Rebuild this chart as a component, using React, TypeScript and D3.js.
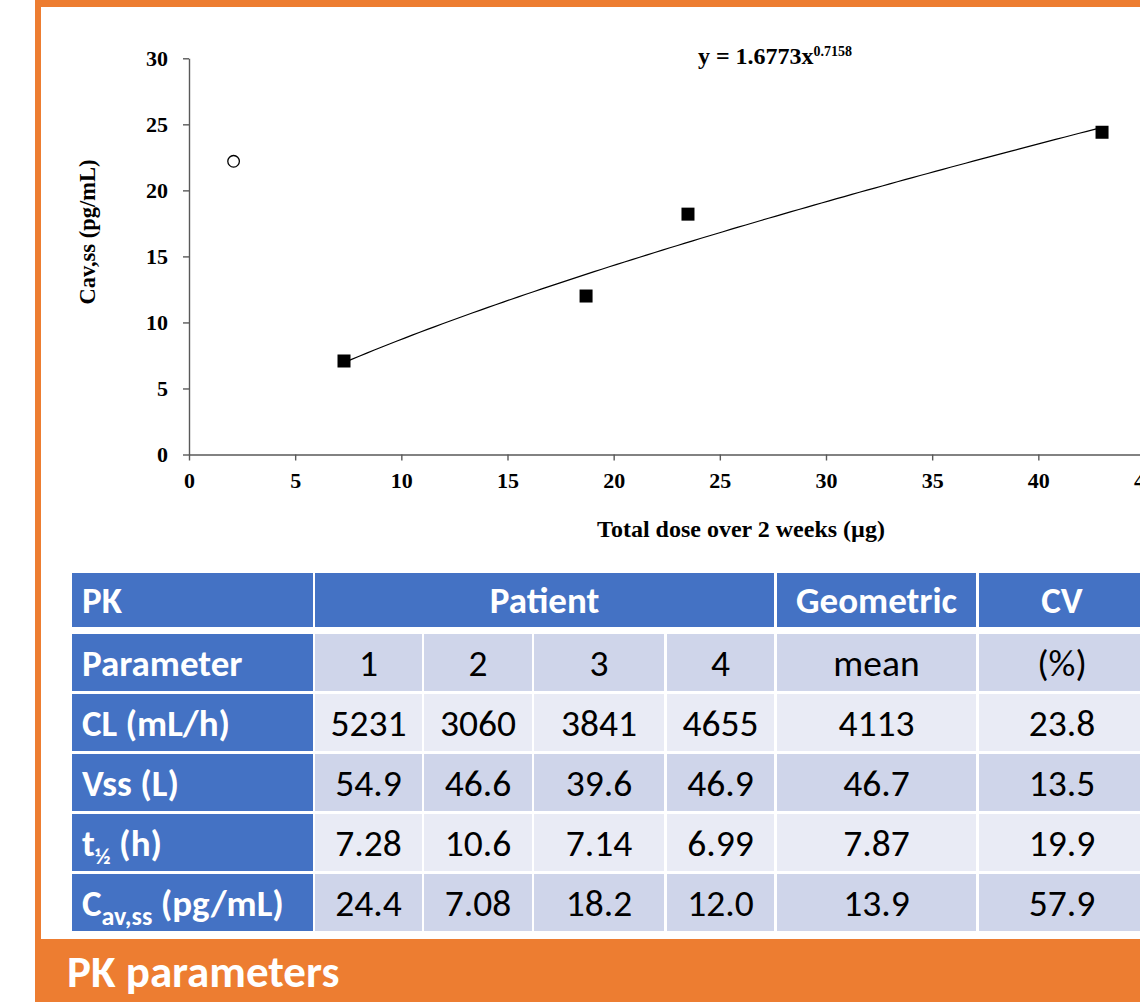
import React, { useRef, useEffect } from "react";
import * as d3 from "d3";

// scatter: total dose (µg) vs Cav,ss (pg/mL)
const patientDose = [43.0, 7.3, 23.5, 18.7];
const patientCav = [24.4, 7.08, 18.2, 12.0];
const outlierDose = [2.1];
const outlierCav = [22.2];
const fitCoef = 1.6773;
const fitExp = 0.7158;
const xTicks = [0, 5, 10, 15, 20, 25, 30, 35, 40, 45];
const yTicks = [0, 5, 10, 15, 20, 25, 30];

// PK table
const headerLabels = ["PK", "Patient", "Geometric", "CV"];
const subHeader = ["Parameter", "1", "2", "3", "4", "mean", "(%)"];
const paramNames = ["CL (mL/h)", "Vss (L)", "t½ (h)", "Cav,ss (pg/mL)"];
const patientValues = [
  ["5231", "3060", "3841", "4655"],
  ["54.9", "46.6", "39.6", "46.9"],
  ["7.28", "10.6", "7.14", "6.99"],
  ["24.4", "7.08", "18.2", "12.0"],
];
const geoMean = ["4113", "46.7", "7.87", "13.9"];
const cvPct = ["23.8", "13.5", "19.9", "57.9"];

const ORANGE = "#ED7D31";
const BLUE = "#4472C4";
const DARK_ROW = "#CFD5EA";
const LIGHT_ROW = "#E9EBF5";
const SERIF = "'Times New Roman', 'Liberation Serif', serif";
const SANS = "Calibri, Carlito, Lato, sans-serif";

function App() {
  const xAxisRef = useRef<SVGGElement>(null);
  const yAxisRef = useRef<SVGGElement>(null);

  const x = d3.scaleLinear().domain([0, 45]).range([189, 1144.5]);
  const y = d3.scaleLinear().domain([0, 30]).range([454.5, 58.3]);

  useEffect(() => {
    const xa = d3.select(xAxisRef.current!);
    xa.call(d3.axisBottom(x).tickValues(xTicks).tickSize(6).tickPadding(12).tickSizeOuter(0));
    const ya = d3.select(yAxisRef.current!);
    ya.call(d3.axisLeft(y).tickValues(yTicks).tickSize(6).tickPadding(15).tickSizeOuter(0));
    [xa, ya].forEach((g) => {
      g.selectAll("path, line").attr("stroke", "#595959").attr("stroke-width", 1.4);
      g.selectAll("text")
        .attr("fill", "#000")
        .style("font-family", SERIF)
        .style("font-weight", "bold")
        .style("font-size", "22px");
    });
  }, []);

  const [d0, d1] = d3.extent(patientDose) as [number, number];
  const fitPts = d3.range(0, 101).map((i) => {
    const dv = d0 + ((d1 - d0) * i) / 100;
    return [dv, fitCoef * Math.pow(dv, fitExp)] as [number, number];
  });
  const line = d3
    .line<[number, number]>()
    .x((p) => x(p[0]))
    .y((p) => y(p[1]));

  // table layout
  const cols = [
    { x: 72, w: 241 },
    { x: 315, w: 107 },
    { x: 424, w: 108 },
    { x: 534, w: 130 },
    { x: 667, w: 107 },
    { x: 777, w: 199 },
    { x: 979, w: 175 },
  ];
  const headRow = { y: 573, h: 54 };
  const rowY = (i: number) => 634 + i * 60;
  const rowH = 57;
  const off = 13;
  const headStyle = { fontFamily: SANS, fontWeight: 700, fontSize: 37, fill: "#fff" } as const;
  const dataStyle = { fontFamily: SANS, fontWeight: 400, fontSize: 37.5, fill: "#000" } as const;

  const paramLabel = (name: string, cy: number) => {
    const base = cy + off;
    if (name.startsWith("t½")) {
      return (
        <text x={82} y={base} style={headStyle}>
          t<tspan fontSize={23} dy={8}>½</tspan>
          <tspan dy={-8}> (h)</tspan>
        </text>
      );
    }
    if (name.startsWith("Cav")) {
      return (
        <text x={82} y={base} style={headStyle}>
          C<tspan fontSize={26} dy={9}>av,ss</tspan>
          <tspan dy={-9}> (pg/mL)</tspan>
        </text>
      );
    }
    return (
      <text x={82} y={base} style={headStyle}>
        {name}
      </text>
    );
  };

  return (
    <svg width={1140} height={1002} style={{ position: "absolute", left: 0, top: 0 }}>
      <rect x={35} y={-10} width={1200} height={1020} fill={ORANGE} />
      <rect x={41} y={7} width={1200} height={932} fill="#fff" />

      {/* chart */}
      <g ref={xAxisRef} transform={`translate(0,${y(0)})`} />
      <g ref={yAxisRef} transform={`translate(${x(0)},0)`} />
      <path d={line(fitPts) || ""} fill="none" stroke="#000" strokeWidth={1.2} />
      {patientDose.map((dv, i) => (
        <rect key={i} x={x(dv) - 6.5} y={y(patientCav[i]) - 6.5} width={13} height={13} fill="#000" />
      ))}
      {outlierDose.map((dv, i) => (
        <circle key={i} cx={x(dv)} cy={y(outlierCav[i])} r={5.8} fill="#fff" stroke="#000" strokeWidth={1.3} />
      ))}
      <text x={775} y={64} textAnchor="middle" style={{ fontFamily: SERIF, fontWeight: 700, fontSize: 24 }}>
        y = {fitCoef}x<tspan fontSize={14} dy={-8}>{fitExp}</tspan>
      </text>
      <text
        transform={`translate(95,232) rotate(-90)`}
        textAnchor="middle"
        style={{ fontFamily: SERIF, fontWeight: 700, fontSize: 22.5 }}
      >
        Cav,ss (pg/mL)
      </text>
      <text x={741} y={537} textAnchor="middle" style={{ fontFamily: SERIF, fontWeight: 700, fontSize: 24 }}>
        Total dose over 2 weeks (µg)
      </text>

      {/* table header row */}
      <rect x={cols[0].x} y={headRow.y} width={cols[0].w} height={headRow.h} fill={BLUE} />
      <rect x={cols[1].x} y={headRow.y} width={cols[4].x + cols[4].w - cols[1].x} height={headRow.h} fill={BLUE} />
      <rect x={cols[5].x} y={headRow.y} width={cols[5].w} height={headRow.h} fill={BLUE} />
      <rect x={cols[6].x} y={headRow.y} width={cols[6].w} height={headRow.h} fill={BLUE} />
      <text x={82} y={headRow.y + headRow.h / 2 + off} style={headStyle}>
        {headerLabels[0]}
      </text>
      <text x={(cols[1].x + cols[4].x + cols[4].w) / 2} y={headRow.y + headRow.h / 2 + off} textAnchor="middle" style={headStyle}>
        {headerLabels[1]}
      </text>
      <text x={cols[5].x + cols[5].w / 2} y={headRow.y + headRow.h / 2 + off} textAnchor="middle" style={headStyle}>
        {headerLabels[2]}
      </text>
      <text x={cols[6].x + 83} y={headRow.y + headRow.h / 2 + off} textAnchor="middle" style={headStyle}>
        {headerLabels[3]}
      </text>

      {/* sub header + body rows */}
      {[subHeader, ...paramNames.map((n, i) => [n, ...patientValues[i], geoMean[i], cvPct[i]])].map((row, ri) => {
        const top = rowY(ri);
        const cy = top + rowH / 2;
        const fill = ri % 2 === 0 ? DARK_ROW : LIGHT_ROW;
        return (
          <g key={ri}>
            {cols.map((c, ci) => (
              <rect key={ci} x={c.x} y={top} width={c.w} height={rowH} fill={ci === 0 ? BLUE : fill} />
            ))}
            {ri === 0 ? (
              <text x={82} y={cy + off} style={headStyle}>
                {row[0]}
              </text>
            ) : (
              paramLabel(row[0], cy)
            )}
            {row.slice(1).map((v, ci) => {
              const c = cols[ci + 1];
              const cx = ci + 1 === 6 ? c.x + 83 : c.x + c.w / 2;
              return (
                <text key={ci} x={cx} y={cy + off} textAnchor="middle" style={dataStyle}>
                  {v}
                </text>
              );
            })}
          </g>
        );
      })}

      <text x={67} y={987} style={{ fontFamily: SANS, fontWeight: 700, fontSize: 45, fill: "#fff" }}>
        PK parameters
      </text>
    </svg>
  );
}

export default App;
